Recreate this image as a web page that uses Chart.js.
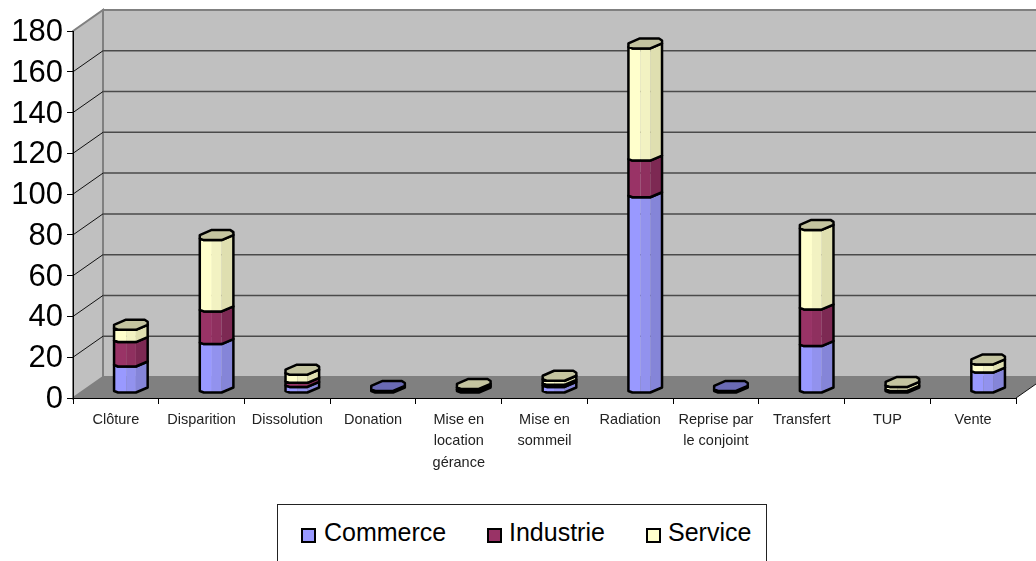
<!DOCTYPE html>
<html>
<head>
<meta charset="utf-8">
<title>Commerce, Industrie, Service</title>
<script src="https://cdn.jsdelivr.net/npm/chart.js@4"></script>
<style>
  html, body { margin: 0; padding: 0; background: #fff; }
  #wrap { position: relative; width: 1036px; height: 561px; overflow: hidden; }
  #myChart { display: block; }
  #legend {
    position: absolute; left: 277px; top: 504px; width: 488px; height: 80px;
    border: 1px solid #222; background: #fff;
    font: 25px "Liberation Sans", Arial, sans-serif; color: #000;
  }
  #legend span { position: absolute; top: 12px; line-height: 30px; }
  #legend i {
    position: absolute; top: 23px; width: 11px; height: 11px; border: 2px solid #000;
  }
</style>
</head>
<body>
<div id="wrap">
  <canvas id="myChart" width="1036" height="561"></canvas>
  <div id="legend"></div>
</div>
<script>
const categories = ["Clôture", "Disparition", "Dissolution", "Donation",
  ["Mise en", "location", "gérance"], ["Mise en", "sommeil"], "Radiation",
  ["Reprise par", "le conjoint"], "Transfert", "TUP", "Vente"];
const commerce  = [13, 24, 3, 1, 0, 3, 96, 1, 23, 0, 10];
const industrie = [12, 16, 2, 0, 1, 1, 18, 0, 18, 1, 0];
const service   = [6, 35, 4, 0, 1, 2, 55, 0, 39, 2, 4];

// left, middle, right face + top of each series
const shades = {
  Commerce:  ["#9999ff", "#9292ee", "#8585d8", "#6a6ab4"],
  Industrie: ["#993366", "#8f305f", "#7d2953", "#6b2447"],
  Service:   ["#ffffcc", "#f2f2c2", "#dfdfb0", "#c4c4a0"]
};

// how far the back wall sits from the front plane
const DEPTH_X = 30, DEPTH_Y = 21;
// the bars stand a little way into the floor
const BAR_DX = 15, BAR_DY = 5;

function poly(ctx, pts, fill, stroke) {
  ctx.beginPath();
  pts.forEach((p, i) => i ? ctx.lineTo(p[0], p[1]) : ctx.moveTo(p[0], p[1]));
  ctx.closePath();
  if (fill) { ctx.fillStyle = fill; ctx.fill(); }
  if (stroke) { ctx.strokeStyle = stroke; ctx.stroke(); }
}

const wallsPlugin = {
  id: "walls",
  beforeDraw(chart) {
    const { ctx, chartArea: a, scales } = chart;
    const bx = a.left + DEPTH_X, ty = a.top - DEPTH_Y, by = a.bottom - DEPTH_Y;
    ctx.save();
    ctx.lineWidth = 2;
    poly(ctx, [[a.left, a.bottom], [a.right, a.bottom], [a.right + DEPTH_X, by], [bx, by]], "#808080");
    poly(ctx, [[bx, ty], [a.right + DEPTH_X, ty], [a.right + DEPTH_X, by], [bx, by]], "#c0c0c0", "#808080");
    poly(ctx, [[a.left, a.top], [bx, ty], [bx, by], [a.left, a.bottom]], "#c0c0c0", "#808080");
    scales.y.ticks.forEach(t => {
      if (t.value === 0 || t.value === scales.y.max) return;
      const y = scales.y.getPixelForValue(t.value);
      ctx.lineWidth = 1.5;
      ctx.strokeStyle = "#4a4a4a";
      ctx.beginPath(); ctx.moveTo(bx, y - DEPTH_Y); ctx.lineTo(a.right + DEPTH_X, y - DEPTH_Y); ctx.stroke();
      ctx.lineWidth = 1;
      ctx.strokeStyle = "#111";
      ctx.beginPath(); ctx.moveTo(a.left, y); ctx.lineTo(bx, y - DEPTH_Y); ctx.stroke();
    });
    // right end of the floor
    ctx.lineWidth = 1;
    ctx.strokeStyle = "#111";
    ctx.beginPath(); ctx.moveTo(a.right, a.bottom); ctx.lineTo(a.right + DEPTH_X, by); ctx.stroke();
    ctx.restore();
  },
  // the bars are drawn here as stacked octagonal prisms from the bar elements
  beforeDatasetsDraw(chart) {
    const ctx = chart.ctx;
    ctx.save();
    ctx.lineJoin = "round";
    ctx.lineWidth = 2.5;
    categories.forEach((c, i) => {
      let last = null;
      chart.data.datasets.forEach((ds, d) => {
        const el = chart.getDatasetMeta(d).data[i];
        if (!ds.data[i]) return;
        drawSegment(ctx, el, shades[ds.label]);
        last = { el, ds };
      });
      if (last) drawTop(ctx, last.el, shades[last.ds.label][3]);
    });
    ctx.restore();
    return false;
  }
};

function drawSegment(ctx, el, colors) {
  const w = el.width, x0 = el.x - w / 2 + BAR_DX;
  const yb = el.base - BAR_DY, yt = el.y - BAR_DY;
  const p1 = x0 + w * 0.36, p2 = x0 + w * 0.65, x3 = x0 + w;
  poly(ctx, [[x0, yb - 1.5], [x0 + 4, yb], [p1, yb], [p1, yt], [x0 + 4, yt], [x0, yt - 1.5]], colors[0]);
  poly(ctx, [[p1, yb], [p2, yb], [p2, yt], [p1, yt]], colors[1]);
  poly(ctx, [[p2, yb], [x3, yb - 5], [x3, yt - 5], [p2, yt]], colors[2]);
  poly(ctx, [[x0, yb - 1.5], [x0 + 4, yb], [p2, yb], [x3, yb - 5], [x3, yt - 5], [p2, yt],
    [x0 + 4, yt], [x0, yt - 1.5]], null, "#000");
}

function drawTop(ctx, el, color) {
  const w = el.width, x0 = el.x - w / 2 + BAR_DX, y = el.y - BAR_DY;
  poly(ctx, [[x0, y - 1.5], [x0 + 4, y], [x0 + w * 0.65, y], [x0 + w, y - 5], [x0 + w, y - 8],
    [x0 + w * 0.91, y - 10], [x0 + w * 0.34, y - 10], [x0, y - 5]], color, "#000");
}

new Chart(document.getElementById("myChart").getContext("2d"), {
  type: "bar",
  data: {
    labels: categories,
    datasets: [
      { label: "Commerce", data: commerce, backgroundColor: shades.Commerce[0] },
      { label: "Industrie", data: industrie, backgroundColor: shades.Industrie[0] },
      { label: "Service", data: service, backgroundColor: shades.Service[0] }
    ]
  },
  options: {
    responsive: false,
    animation: false,
    layout: { padding: { top: 31, right: 20, bottom: 63, left: 0 } },
    datasets: { bar: { categoryPercentage: 1, barPercentage: 0.392 } },
    plugins: { legend: { display: false }, tooltip: { enabled: false }, title: { display: false } },
    scales: {
      x: {
        stacked: true,
        afterFit(s) { s.height = 100; },
        border: { color: "#000", width: 1 },
        grid: { drawOnChartArea: false, color: "#000", tickLength: 6 },
        ticks: {
          maxRotation: 0, autoSkip: false, padding: 5, color: "#222",
          font: { family: "'Liberation Sans'", size: 14.5, lineHeight: 1.48 }
        }
      },
      y: {
        stacked: true, min: 0, max: 180,
        afterFit(s) { s.width = 73; },
        border: { color: "#000", width: 1 },
        grid: { drawOnChartArea: false, color: "#000", tickLength: 6 },
        ticks: {
          stepSize: 20, padding: 4, color: "#000", labelOffset: 1.5,
          font: { family: "'Liberation Sans'", size: 31 }
        }
      }
    }
  },
  plugins: [wallsPlugin]
});

// legend frame under the chart, same colours as the datasets
const legend = document.getElementById("legend");
[["Commerce", 23, 46], ["Industrie", 209, 231], ["Service", 368, 390]].forEach(([name, bx, tx]) => {
  const box = document.createElement("i");
  box.style.left = bx + "px";
  box.style.background = shades[name][0];
  const label = document.createElement("span");
  label.style.left = tx + "px";
  label.textContent = name;
  legend.append(box, label);
});
</script>
</body>
</html>
